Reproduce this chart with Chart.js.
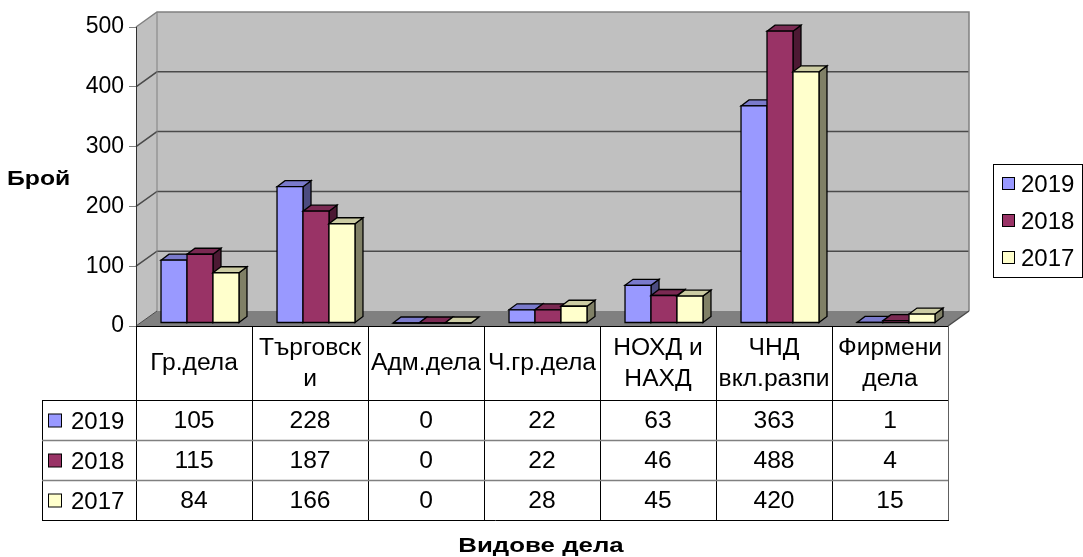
<!DOCTYPE html>
<html>
<head>
<meta charset="utf-8">
<script src="https://cdn.jsdelivr.net/npm/chart.js@4.4.1/dist/chart.umd.min.js"></script>
<style>
  html, body { margin: 0; padding: 0; background: #fff; }
  #wrap { width: 1083px; height: 557px; }
</style>
</head>
<body>
<div id="wrap"><canvas id="chart"></canvas></div>
<script>
// ---------- Data ----------
const categories = [['Гр.дела'], ['Търговск', 'и'], ['Адм.дела'], ['Ч.гр.дела'], ['НОХД и', 'НАХД'], ['ЧНД', 'вкл.разпи'], ['Фирмени', 'дела']];
const seriesNames = ['2019', '2018', '2017'];
const values2019 = [105, 228, 0, 22, 63, 363, 1];
const values2018 = [115, 187, 0, 22, 46, 488, 4];
const values2017 = [84, 166, 0, 28, 45, 420, 15];
const yTickValues = [0, 100, 200, 300, 400, 500];

// ---------- Look ----------
const FONT = '"Liberation Sans", Arial, sans-serif';
const frontColors = ['#9999FF', '#993366', '#FFFFCC'];
const topColors = ['#7A7ACC', '#7A2952', '#CCCCA3'];
const sideColors = ['#4C4C80', '#4C1933', '#808066'];
const WALL_DX = 21, WALL_DY = -15;   // depth of the back wall
const BAR_DX = 8, BAR_DY = -6;       // depth of one bar
const BAR_SHIFT_X = 6, BAR_SHIFT_Y = -3;

function poly(ctx, pts, fill, stroke, lw) {
    ctx.beginPath();
    ctx.moveTo(pts[0][0], pts[0][1]);
    for (let i = 1; i < pts.length; i++) ctx.lineTo(pts[i][0], pts[i][1]);
    ctx.closePath();
    if (fill) { ctx.fillStyle = fill; ctx.fill(); }
    if (stroke) { ctx.strokeStyle = stroke; ctx.lineWidth = lw || 1; ctx.stroke(); }
}

function line(ctx, x0, y0, x1, y1, color, lw) {
    ctx.beginPath();
    ctx.moveTo(x0, y0);
    ctx.lineTo(x1, y1);
    ctx.strokeStyle = color;
    ctx.lineWidth = lw;
    ctx.stroke();
}

// text drawn a little wider than the font, like the original export
function wideText(ctx, text, x, y, sx, align) {
    const w = ctx.measureText(text).width * sx;
    const left = align === 'center' ? x - w / 2 : x;
    ctx.save();
    ctx.textAlign = 'left';
    ctx.translate(left, y);
    ctx.scale(sx, 1);
    ctx.fillText(text, 0, 0);
    ctx.restore();
}

// --- walls, floor and grid ---
const walls = {
    id: 'walls',
    beforeDraw(chart) {
        const { ctx, chartArea: a, scales: { y } } = chart;
        const L = a.left, R = a.right, T = a.top, B = a.bottom;
        ctx.save();
        poly(ctx, [[L, T], [L + WALL_DX, T + WALL_DY], [L + WALL_DX, B + WALL_DY], [L, B]], '#C0C0C0');
        poly(ctx, [[L + WALL_DX, T + WALL_DY], [R + WALL_DX, T + WALL_DY], [R + WALL_DX, B + WALL_DY], [L + WALL_DX, B + WALL_DY]], '#C0C0C0');
        poly(ctx, [[L, B], [L + WALL_DX, B + WALL_DY], [R + WALL_DX, B + WALL_DY], [R, B]], '#808080');

        yTickValues.forEach(v => {
            if (v === 0 || v === 500) return;
            const py = y.getPixelForValue(v);
            ctx.beginPath();
            ctx.moveTo(L, py);
            ctx.lineTo(L + WALL_DX, py + WALL_DY);
            ctx.lineTo(R + WALL_DX, py + WALL_DY);
            ctx.strokeStyle = '#4a4a4a';
            ctx.lineWidth = 1.5;
            ctx.stroke();
        });

        // outline of the walls
        ctx.beginPath();
        ctx.moveTo(L, T);
        ctx.lineTo(L + WALL_DX, T + WALL_DY);
        ctx.lineTo(R + WALL_DX, T + WALL_DY);
        ctx.lineTo(R + WALL_DX, B + WALL_DY);
        ctx.strokeStyle = '#808080';
        ctx.lineWidth = 1.5;
        ctx.stroke();
        line(ctx, L + WALL_DX, T + WALL_DY, L + WALL_DX, B + WALL_DY, '#808080', 1);
        line(ctx, L, B, L + WALL_DX, B + WALL_DY, '#4a4a4a', 1);
        line(ctx, R, B, R + WALL_DX, B + WALL_DY, '#4a4a4a', 1.5);
        ctx.restore();
    }
};

// --- 3D bars drawn from the bar elements ---
const bars3d = {
    id: 'bars3d',
    afterDatasetsDraw(chart) {
        const ctx = chart.ctx;
        const metas = chart.data.datasets.map((d, i) => chart.getDatasetMeta(i));
        ctx.save();
        ctx.lineJoin = 'miter';
        for (let c = 0; c < categories.length; c++) {
            metas.forEach((meta, s) => {
                const el = meta.data[c];
                const { x, y, base, width } = el.getProps(['x', 'y', 'base', 'width'], true);
                const x0 = x - width / 2 + BAR_SHIFT_X, x1 = x + width / 2 + BAR_SHIFT_X;
                const yt = y + BAR_SHIFT_Y, yb = base + BAR_SHIFT_Y;
                poly(ctx, [[x1, yb], [x1 + BAR_DX, yb + BAR_DY], [x1 + BAR_DX, yt + BAR_DY], [x1, yt]], sideColors[s], '#000', 1.3);
                poly(ctx, [[x0, yt], [x0 + BAR_DX, yt + BAR_DY], [x1 + BAR_DX, yt + BAR_DY], [x1, yt]], topColors[s], '#000', 1.3);
                poly(ctx, [[x0, yt], [x1, yt], [x1, yb], [x0, yb]], frontColors[s], '#000', 1.3);
            });
        }
        ctx.restore();
    }
};

// --- data table, legend, titles ---
const extras = {
    id: 'extras',
    afterDraw(chart) {
        const { ctx, chartArea: a, scales: { x } } = chart;
        const n = categories.length;
        const step = x.getPixelForValue(1) - x.getPixelForValue(0);
        const colL = i => x.getPixelForValue(i) - step / 2;
        const tableLeft = 42;
        const headTop = a.bottom, headBottom = 400;
        const rowH = 40;
        const rowsTop = headBottom;
        const tableBottom = rowsTop + rowH * 3;
        const seriesValues = [values2019, values2018, values2017];

        ctx.save();
        // lines
        for (let i = 0; i <= n; i++) {
            const px = Math.round(colL(i)) + 0.5;
            line(ctx, px, headTop, px, tableBottom, i === n ? '#606060' : '#000', 1);
        }
        line(ctx, tableLeft + 0.5, rowsTop, tableLeft + 0.5, tableBottom, '#000', 1);
        line(ctx, tableLeft, rowsTop + 0.5, a.right, rowsTop + 0.5, '#000', 1);
        line(ctx, tableLeft, rowsTop + rowH + 0.5, a.right, rowsTop + rowH + 0.5, '#808080', 1.5);
        line(ctx, tableLeft, rowsTop + 2 * rowH + 0.5, a.right, rowsTop + 2 * rowH + 0.5, '#808080', 1.5);
        line(ctx, tableLeft, tableBottom + 0.5, a.right + 1, tableBottom + 0.5, '#000', 1);
        line(ctx, a.left, headTop + 0.5, a.right, headTop + 0.5, '#000', 1);

        ctx.fillStyle = '#000';
        ctx.font = '23px ' + FONT;
        ctx.textBaseline = 'middle';
        const headMid = (headTop + headBottom) / 2 + 1;
        categories.forEach((lines, i) => {
            const cx = x.getPixelForValue(i);
            lines.forEach((t, k) => {
                const ly = headMid + (k - (lines.length - 1) / 2) * 31;
                wideText(ctx, t, cx, ly, 1.07, 'center');
            });
            seriesValues.forEach((vals, s) => {
                wideText(ctx, String(vals[i]), cx, rowsTop + rowH * s + rowH / 2 + 2, 1.07, 'center');
            });
        });

        // series labels in the table
        ctx.font = '24px ' + FONT;
        seriesNames.forEach((name, s) => {
            const cy = rowsTop + rowH * s + rowH / 2 + 1;
            ctx.fillStyle = frontColors[s];
            ctx.fillRect(48.5, cy - 7, 13, 13);
            ctx.strokeStyle = '#000';
            ctx.lineWidth = 1;
            ctx.strokeRect(48.5, cy - 7, 13, 13);
            ctx.fillStyle = '#000';
            wideText(ctx, name, 71, cy + 1, 1, 'left');
        });

        // legend box
        ctx.strokeStyle = '#000';
        ctx.lineWidth = 1;
        ctx.strokeRect(993.5, 164.5, 89, 113);
        seriesNames.forEach((name, s) => {
            const cy = 184 + s * 37;
            ctx.fillStyle = frontColors[s];
            ctx.fillRect(1002.5, cy - 6.5, 12, 12);
            ctx.strokeRect(1002.5, cy - 6.5, 12, 12);
            ctx.fillStyle = '#000';
            wideText(ctx, name, 1021, cy + 1, 1, 'left');
        });

        // axis titles
        ctx.font = 'bold 21px ' + FONT;
        wideText(ctx, 'Брой', 7, 179, 1.18, 'left');
        wideText(ctx, 'Видове дела', 541, 546, 1.23, 'center');
        ctx.restore();
    }
};

const cfg = {
    type: 'bar',
    data: {
        labels: categories,
        datasets: [
            { label: seriesNames[0], data: values2019 },
            { label: seriesNames[1], data: values2018 },
            { label: seriesNames[2], data: values2017 }
        ].map(d => Object.assign(d, {
            backgroundColor: 'rgba(0,0,0,0)',
            borderWidth: 0,
            categoryPercentage: 0.672,
            barPercentage: 1
        }))
    },
    options: {
        responsive: true,
        maintainAspectRatio: false,
        animation: false,
        layout: { padding: { top: 27, right: 135, bottom: 231, left: 0 } },
        plugins: { legend: { display: false }, tooltip: { enabled: false } },
        scales: {
            x: { display: false },
            y: {
                min: 0,
                max: 500,
                afterFit: s => { s.width = 136; },
                afterBuildTicks: s => { s.ticks = yTickValues.map(v => ({ value: v })); },
                grid: { drawOnChartArea: false, drawTicks: true, tickLength: 7, color: '#808080' },
                border: { display: true, color: '#303030', width: 1 },
                ticks: { color: '#000', padding: 5, font: { family: FONT, size: 23 } }
            }
        }
    },
    plugins: [walls, bars3d, extras]
};

new Chart(document.getElementById('chart').getContext('2d'), cfg);
</script>
</body>
</html>
